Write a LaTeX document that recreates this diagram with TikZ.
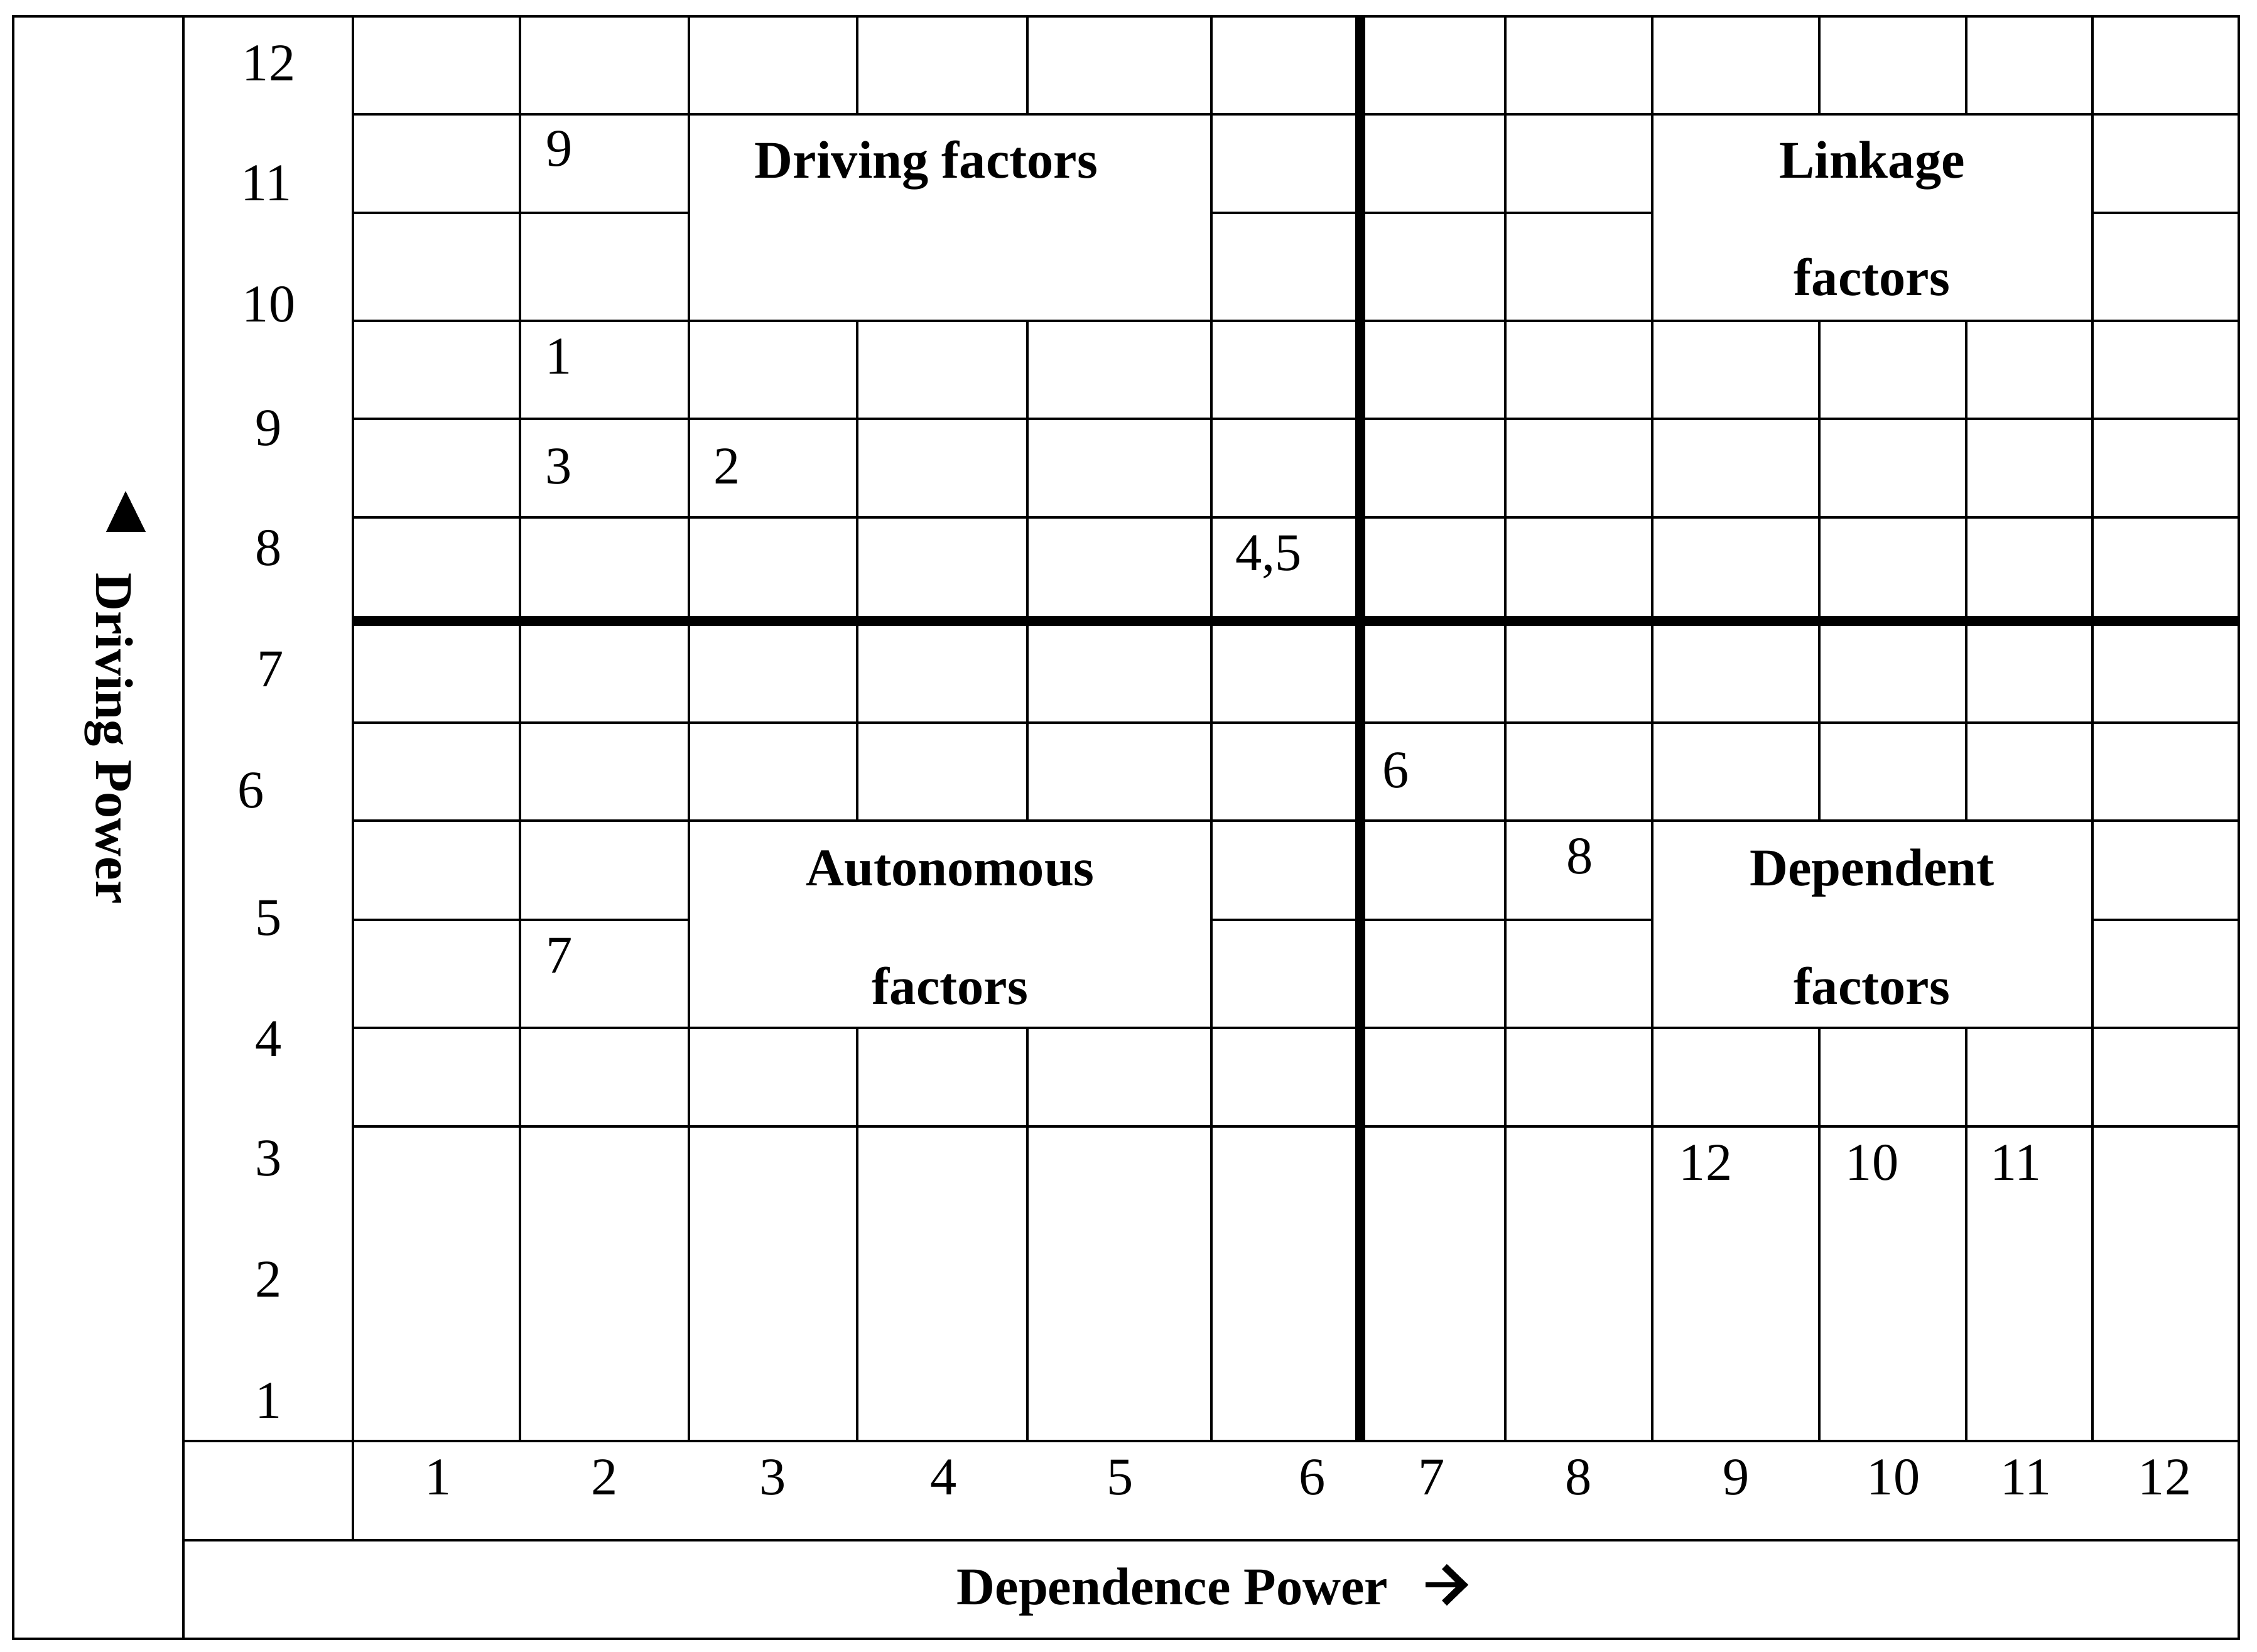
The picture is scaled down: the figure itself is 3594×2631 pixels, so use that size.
\documentclass[tikz,border=0pt]{standalone}
\usepackage{fontspec}
\setmainfont{Liberation Serif}
\newcommand\dgtfont{\fontsize{24}{29}\selectfont}
\newcommand\bldfont{\fontsize{24}{29}\selectfont\bfseries}
\begin{document}
\begin{tikzpicture}[x=0.01cm,y=-0.01cm,
  thinln/.style={line width=1.14pt},
  heavyln/.style={line width=4.8pt},
  dgt/.style={font=\dgtfont, anchor=base, inner sep=0pt},
  bld/.style={font=\bldfont, anchor=base, inner sep=0pt}]
\useasboundingbox (0,0) rectangle (3594,2631);

% frame
\draw[thinln] (21,26) rectangle (3565,2610);
\draw[thinln] (292,26) -- (292,2610);
\draw[thinln] (562,26) -- (562,2453);
\draw[thinln] (292,2295) -- (3565,2295);
\draw[thinln] (292,2453) -- (3565,2453);

% horizontal grid lines
\foreach \y in {182,511,667,824,1151,1307,1637,1794}
  \draw[thinln] (562,\y) -- (3565,\y);
\foreach \y in {339,1465} {
  \draw[thinln] (562,\y) -- (1097,\y);
  \draw[thinln] (1929,\y) -- (2631,\y);
  \draw[thinln] (3332,\y) -- (3565,\y);
}
% vertical grid lines
\foreach \x in {828,1097,1929,2397,2631,3332}
  \draw[thinln] (\x,26) -- (\x,2295);
\foreach \x in {1365,1636,2897,3131} {
  \draw[thinln] (\x,26) -- (\x,182);
  \draw[thinln] (\x,511) -- (\x,1307);
  \draw[thinln] (\x,1637) -- (\x,2295);
}
% quadrant dividers
\draw[heavyln] (562,989) -- (3565,989);
\draw[heavyln] (2166,26) -- (2166,2295);

% row labels (driving power)
\node[dgt] (r12) at (428,129) {12};
\node[dgt] (r11) at (424,320) {11};
\node[dgt] (r10) at (428,513) {10};
\node[dgt] (r9) at (428,709) {9};
\node[dgt] (r8) at (428,900) {8};
\node[dgt] (r7) at (431,1093) {7};
\node[dgt] (r6) at (400,1286) {6};
\node[dgt] (r5) at (428,1489) {5};
\node[dgt] (r4) at (428,1682) {4};
\node[dgt] (r3) at (428,1872) {3};
\node[dgt] (r2) at (428,2065) {2};
\node[dgt] (r1) at (428,2258) {1};

% column labels (dependence power)
\node[dgt] (c1) at (698,2380) {1};
\node[dgt] (c2) at (963,2380) {2};
\node[dgt] (c3) at (1231,2380) {3};
\node[dgt] (c4) at (1503,2380) {4};
\node[dgt] (c5) at (1784,2380) {5};
\node[dgt] (c6) at (2090,2380) {6};
\node[dgt] (c7) at (2280,2380) {7};
\node[dgt] (c8) at (2514,2380) {8};
\node[dgt] (c9) at (2765,2380) {9};
\node[dgt] (c10) at (3015,2380) {10};
\node[dgt] (c11) at (3226,2380) {11};
\node[dgt] (c12) at (3447,2380) {12};

% factors in cells
\node[dgt] (f9) at (891,265) {9};
\node[dgt] (f1) at (890,596) {1};
\node[dgt] (f3) at (890,770) {3};
\node[dgt] (f2) at (1158,770) {2};
\node[dgt] (f45) at (2020,908) {4,5};
\node[dgt] (f6) at (2223,1254) {6};
\node[dgt] (f8) at (2516,1391) {8};
\node[dgt] (f7) at (891,1549) {7};
\node[dgt] (f12) at (2716,1879) {12};
\node[dgt] (f10) at (2981,1879) {10};
\node[dgt] (f11) at (3210,1879) {11};

% quadrant titles
\node[bld] (qdrv) at (1475,284) {Driving factors};
\node[bld] (qlnk1) at (2981,284) {Linkage};
\node[bld] (qlnk2) at (2981,471) {factors};
\node[bld] (qaut1) at (1513,1410) {Autonomous};
\node[bld] (qaut2) at (1513,1599) {factors};
\node[bld] (qdep1) at (2981,1410) {Dependent};
\node[bld] (qdep2) at (2981,1599) {factors};

% axis titles
\node[bld] (xaxis) at (1867,2555) {Dependence Power};
\coordinate (arrS) at (2270,2524);
\coordinate (arrE) at (2330,2524);
\coordinate (arrU) at (2300,2495);
\coordinate (arrD) at (2300,2553);
\draw[line width=2.3pt] (arrS) -- (arrE);
\draw[line width=3.2pt, line join=miter] (arrU) -- (arrE) -- (arrD);

\node[bld, rotate=-90] (yaxis) at (153,1176) {Driving Power};
\fill (169,847) -- (232,847) -- (200,782) -- cycle;
\end{tikzpicture}
\end{document}
